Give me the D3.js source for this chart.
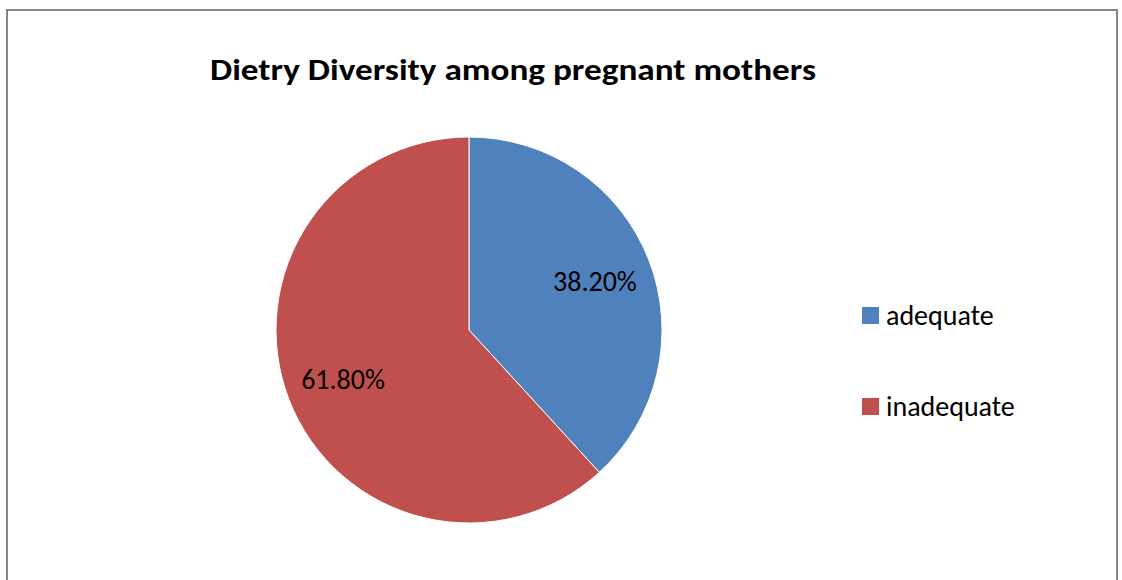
<!DOCTYPE html>
<html>
<head>
<meta charset="utf-8">
<script src="https://cdn.jsdelivr.net/npm/d3@7"></script>
<style>
  body { margin: 0; background: #fff; }
  text { font-family: Carlito, Lato, "Open Sans", sans-serif; }
</style>
</head>
<body>
<script>
const categories = ['adequate', 'inadequate'];
const values = [38.2, 61.8];
const labels = ['38.20%', '61.80%'];
const colors = ['#4f81bd', '#c0504d'];
const title = 'Dietry Diversity among pregnant mothers';

const w = 1122, h = 580;
const cx = 469, cy = 330, radius = 193;

const svg = d3.select('body').append('svg')
    .attr('width', w)
    .attr('height', h);

// chart border
svg.append('rect')
    .attr('x', 7).attr('y', 10)
    .attr('width', 1110).attr('height', 600)
    .attr('fill', '#fff')
    .attr('stroke', '#868686')
    .attr('stroke-width', 2);

svg.append('text')
    .attr('x', 513).attr('y', 80)
    .attr('text-anchor', 'middle')
    .attr('font-size', 30)
    .attr('font-weight', 'bold')
    .attr('textLength', 606)
    .attr('lengthAdjust', 'spacingAndGlyphs')
    .text(title);

const data = categories.map((c, i) => ({ name: c, value: values[i], label: labels[i], color: colors[i] }));

const pie = d3.pie().value(d => d.value).sort(null);
const arc = d3.arc().innerRadius(0).outerRadius(radius);
const labelArc = d3.arc().innerRadius(radius * 0.7).outerRadius(radius * 0.7);

const g = svg.append('g').attr('transform', `translate(${cx},${cy})`);
const arcs = pie(data);

g.selectAll('path')
    .data(arcs)
    .enter()
    .append('path')
    .attr('d', arc)
    .attr('fill', d => d.data.color)
    .attr('stroke', '#fff')
    .attr('stroke-width', 1);

g.selectAll('.lbl')
    .data(arcs)
    .enter()
    .append('text')
    .attr('class', 'lbl')
    .attr('transform', d => `translate(${labelArc.centroid(d)})`)
    .attr('text-anchor', 'middle')
    .attr('dy', '0.35em')
    .attr('font-size', 28)
    .attr('fill', '#000')
    .text(d => d.data.label);

const legend = svg.append('g').attr('transform', 'translate(862,307)');
const item = legend.selectAll('g')
    .data(data)
    .enter()
    .append('g')
    .attr('transform', (d, i) => `translate(0,${i * 91})`);

item.append('rect')
    .attr('width', 17).attr('height', 17)
    .attr('fill', d => d.color);

item.append('text')
    .attr('x', 24).attr('y', 8)
    .attr('dy', '0.35em')
    .attr('font-size', 28)
    .text(d => d.name);
</script>
</body>
</html>
